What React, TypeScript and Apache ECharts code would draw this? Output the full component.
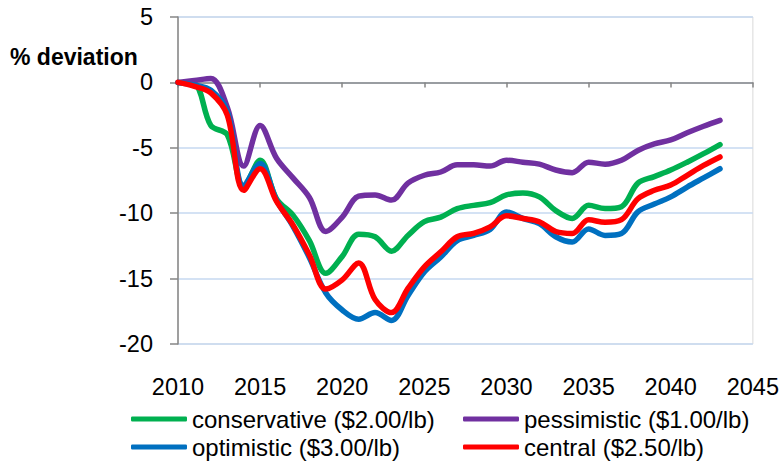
import React, { useEffect, useRef } from "react";
import * as echarts from "echarts";

const years = [
  2010, 2011, 2012, 2013, 2014, 2015, 2016, 2017, 2018, 2019, 2020, 2021,
  2022, 2023, 2024, 2025, 2026, 2027, 2028, 2029, 2030, 2031, 2032, 2033,
  2034, 2035, 2036, 2037, 2038, 2039, 2040, 2041, 2042, 2043,
];

const conservative = [
  0, -0.1, -3.3, -4.0, -8.0, -5.95, -8.9, -10.15, -12.1, -14.6, -13.3, -11.6,
  -11.8, -12.9, -11.7, -10.65, -10.3, -9.65, -9.4, -9.2, -8.6, -8.45, -8.75,
  -9.8, -10.4, -9.4, -9.65, -9.5, -7.7, -7.2, -6.7, -6.1, -5.45, -4.75,
];

const pessimistic = [
  0, 0.15, 0.3, -1.9, -6.4, -3.3, -5.8, -7.3, -8.8, -11.4, -10.3, -8.7, -8.6,
  -9.0, -7.7, -7.1, -6.85, -6.3, -6.3, -6.4, -5.95, -6.1, -6.25, -6.7, -6.9,
  -6.1, -6.25, -5.95, -5.2, -4.7, -4.4, -3.85, -3.35, -2.9,
];

const optimistic = [
  0, -0.2, -0.6, -2.2, -7.9, -6.2, -9.0, -11.0, -13.4, -16.1, -17.4, -18.1,
  -17.6, -18.2, -16.3, -14.5, -13.35, -12.1, -11.7, -11.25, -9.9, -10.4,
  -10.8, -11.8, -12.2, -11.2, -11.7, -11.55, -9.9, -9.3, -8.75, -8.0, -7.3,
  -6.6,
];

const central = [
  0, -0.3, -0.8, -2.5, -8.25, -6.6, -9.1, -10.9, -13.2, -15.8, -15.1, -13.8,
  -16.6, -17.6, -15.75, -14.1, -12.95, -11.8, -11.55, -11.05, -10.2, -10.4,
  -10.65, -11.4, -11.55, -10.5, -10.7, -10.5, -8.9, -8.25, -7.85, -7.1, -6.35,
  -5.7,
];

const seriesNames = [
  "conservative ($2.00/lb)",
  "pessimistic ($1.00/lb)",
  "optimistic ($3.00/lb)",
  "central ($2.50/lb)",
];
const seriesValues = [conservative, pessimistic, optimistic, central];
const seriesColors = ["#00B050", "#7030A0", "#0070C0", "#FF0000"];

const yTitle = "% deviation";
const FONT = "Liberation Sans";

export default function App() {
  const ref = useRef<HTMLDivElement>(null);

  useEffect(() => {
    if (!ref.current) return;
    const chart = echarts.init(ref.current, null, { renderer: "svg" });

    const legendText = {
      fontSize: 24,
      fontFamily: FONT,
      color: "#000",
      lineHeight: 26,
    };

    const option: any = {
      animation: false,
      backgroundColor: "#fff",
      grid: {
        left: 178,
        right: 29,
        top: 17,
        bottom: 118,
        show: true,
        borderColor: "#D9D9D9",
        borderWidth: 1,
        backgroundColor: "transparent",
      },
      graphic: [
        {
          type: "text",
          left: 10,
          top: 45,
          style: {
            text: yTitle,
            fontSize: 23,
            fontWeight: "bold",
            fontFamily: FONT,
            fill: "#000",
          },
        },
      ],
      legend: [
        {
          data: [seriesNames[0], seriesNames[2]],
          orient: "vertical",
          left: 131,
          top: 406,
          itemWidth: 56,
          itemHeight: 5,
          itemGap: 2,
          icon: "roundRect",
          selectedMode: false,
          textStyle: legendText,
          padding: 0,
        },
        {
          data: [seriesNames[1], seriesNames[3]],
          orient: "vertical",
          left: 463,
          top: 406,
          itemWidth: 56,
          itemHeight: 5,
          itemGap: 2,
          icon: "roundRect",
          selectedMode: false,
          textStyle: legendText,
          padding: 0,
        },
      ],
      xAxis: [
        {
          type: "value",
          min: 2010,
          max: 2045,
          interval: 5,
          position: "bottom",
          axisLine: {
            show: true,
            onZero: true,
            lineStyle: { color: "#868686", width: 1.5 },
          },
          axisTick: {
            show: true,
            inside: false,
            length: 5,
            lineStyle: { color: "#868686", width: 1.5 },
          },
          axisLabel: { show: false },
          splitLine: { show: false },
        },
        {
          type: "value",
          min: 2010,
          max: 2045,
          interval: 5,
          position: "bottom",
          axisLine: { show: false, onZero: false },
          axisTick: { show: false },
          axisLabel: {
            show: true,
            margin: 31,
            fontSize: 23.5,
            fontFamily: FONT,
            color: "#000",
            formatter: (v: number) => String(v),
          },
          splitLine: { show: false },
        },
      ],
      yAxis: {
        type: "value",
        min: -20,
        max: 5,
        interval: 5,
        axisLine: {
          show: true,
          onZero: false,
          lineStyle: { color: "#868686", width: 1.5 },
        },
        axisTick: {
          show: true,
          inside: false,
          length: 8,
          lineStyle: { color: "#868686", width: 1.5 },
        },
        axisLabel: {
          margin: 25,
          fontSize: 23.5,
          fontFamily: FONT,
          color: "#000",
        },
        splitLine: {
          show: true,
          lineStyle: { color: "#C6D9F1", width: 1.5 },
        },
      },
      series: seriesNames.map((name, i) => ({
        name,
        type: "line",
        xAxisIndex: 0,
        yAxisIndex: 0,
        data: years.map((y, j) => [y, seriesValues[i][j]]),
        smooth: 0.35,
        showSymbol: false,
        symbol: "none",
        color: seriesColors[i],
        lineStyle: { color: seriesColors[i], width: 5.5, cap: "round", join: "round" },
        z: 3 + i,
      })),
    };

    chart.setOption(option);
    return () => chart.dispose();
  }, []);

  return (
    <div
      ref={ref}
      style={{ position: "absolute", left: 0, top: 0, width: 782, height: 462 }}
    />
  );
}
